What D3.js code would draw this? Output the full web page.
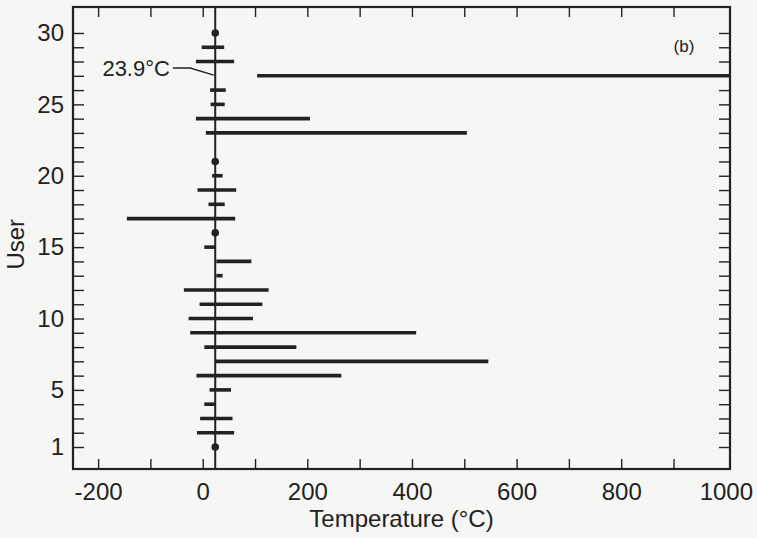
<!DOCTYPE html>
<html>
<head>
<meta charset="utf-8">
<script src="https://cdn.jsdelivr.net/npm/d3@7"></script>
<style>
    body { margin: 0; background: #f6f6f4; }
    svg { display: block; }
    text { font-family: "Liberation Sans", Arial, sans-serif; fill: #222; }
</style>
</head>
<body>
<svg id="chart" width="757" height="538"></svg>
<script>
// users on the y axis
var users = d3.range(1, 31);
// low / high of each user's temperature range (null = single point or nothing)
var lows  = [null, -11, -5, 3, 13, -12, 25, 3, -24, -27, -6, -36, 26, 26, 3, null, -145, 11, -10, 18, null, null, 6, -13, 15, 14, 104, -13, -2, null];
var highs = [null, 60, 57, 25, 54, 265, 546, 179, 408, 96, 114, 126, 38, 93, 24, null, 62, 42, 64, 38, null, null, 505, 205, 42, 44, 1100, 60, 41, null];
// users with only one reading, drawn as a dot on the reference line
var pointUsers = [1, 16, 21, 30];
var refTemp = 23.9;

var xMajor = d3.range(-200, 1001, 200);
var xMinor = d3.range(-200, 901, 100);
var yLabels = [1, 5, 10, 15, 20, 25, 30];

// leader for the 23.9 label, in data units
var leaderX = [-57, -24, 21];
var leaderY = [27.55, 27.55, 27.05];

var svg = d3.select("#chart"),
    margin = {top: 7, right: 27, bottom: 69, left: 73},
    width = +svg.attr("width") - margin.left - margin.right,
    height = +svg.attr("height") - margin.top - margin.bottom;

var g = svg.append("g").attr("transform", "translate(" + margin.left + "," + margin.top + ")");

var x = d3.scaleLinear().domain([-248, 1008]).range([0, width]);
var y = d3.scaleLinear().domain([-0.54, 31.82]).range([height, 0]);

g.append("defs").append("clipPath").attr("id", "plotclip")
    .append("rect").attr("width", width).attr("height", height);

/* axes: tick marks pointing in on all four sides */
function tickStyle(sel) {
    sel.select(".domain").remove();
    sel.selectAll("line").attr("stroke", "#222").attr("stroke-width", 1.4);
}

g.append("g").attr("transform", "translate(0," + height + ")")
    .call(d3.axisTop(x).tickValues(xMinor).tickSize(10).tickFormat(""))
    .call(tickStyle);
g.append("g")
    .call(d3.axisBottom(x).tickValues(xMinor).tickSize(10).tickFormat(""))
    .call(tickStyle);
g.append("g")
    .call(d3.axisRight(y).tickValues(users).tickSize(11).tickFormat(""))
    .call(tickStyle);
g.append("g").attr("transform", "translate(" + width + ",0)")
    .call(d3.axisLeft(y).tickValues(users).tickSize(11).tickFormat(""))
    .call(tickStyle);

// tick labels (plain hyphen for negatives, as in the original)
var xl = g.append("g").attr("transform", "translate(0," + height + ")")
    .call(d3.axisBottom(x).tickValues(xMajor).tickSize(0).tickPadding(14)
        .tickFormat(function (d) { return String(d); }));
xl.select(".domain").remove();
xl.selectAll("text").style("font-size", "24px").attr("fill", "#222")
    .attr("font-family", "Liberation Sans, Arial, sans-serif");

var yl = g.append("g")
    .call(d3.axisLeft(y).tickValues(yLabels).tickSize(0).tickPadding(9));
yl.select(".domain").remove();
yl.selectAll("text").style("font-size", "24px").attr("fill", "#222")
    .attr("font-family", "Liberation Sans, Arial, sans-serif");

// frame
g.append("rect")
    .attr("width", width).attr("height", height)
    .attr("fill", "none").attr("stroke", "#222").attr("stroke-width", 2.2);

/* reference line at 23.9 C */
g.append("line")
    .attr("x1", x(refTemp)).attr("x2", x(refTemp))
    .attr("y1", 0).attr("y2", height)
    .attr("stroke", "#222").attr("stroke-width", 2);

/* range bars */
var bars = users.filter(function (u, i) { return lows[i] !== null; });
g.append("g").attr("clip-path", "url(#plotclip)")
    .selectAll("line")
    .data(bars)
    .enter().append("line")
    .attr("x1", function (u) { return x(lows[u - 1]); })
    .attr("x2", function (u) { return x(highs[u - 1]); })
    .attr("y1", function (u) { return y(u); })
    .attr("y2", function (u) { return y(u); })
    .attr("stroke", "#222")
    .attr("stroke-width", 3.6);

g.append("g").selectAll("circle")
    .data(pointUsers)
    .enter().append("circle")
    .attr("cx", x(refTemp))
    .attr("cy", function (u) { return y(u); })
    .attr("r", 3.8)
    .attr("fill", "#222");

/* annotations */
var leader = d3.line()
    .x(function (d) { return x(d[0]); })
    .y(function (d) { return y(d[1]); });
g.append("path")
    .attr("d", leader(d3.zip(leaderX, leaderY)))
    .attr("fill", "none").attr("stroke", "#222").attr("stroke-width", 1.4);

g.append("text")
    .attr("x", x(leaderX[0]) - 3)
    .attr("y", y(leaderY[0]))
    .attr("dy", "0.36em")
    .attr("text-anchor", "end")
    .style("font-size", "22px")
    .text("23.9°C");

g.append("text")
    .attr("x", width - 46)
    .attr("y", 45)
    .attr("text-anchor", "middle")
    .style("font-size", "17px")
    .text("(b)");

/* axis titles */
g.append("text")
    .attr("x", width / 2)
    .attr("y", height + 58)
    .attr("text-anchor", "middle")
    .style("font-size", "24px")
    .text("Temperature (°C)");

g.append("text")
    .attr("transform", "translate(" + (-49) + "," + (y(15.2)) + ") rotate(-90)")
    .attr("text-anchor", "middle")
    .style("font-size", "24px")
    .text("User");
</script>
</body>
</html>
